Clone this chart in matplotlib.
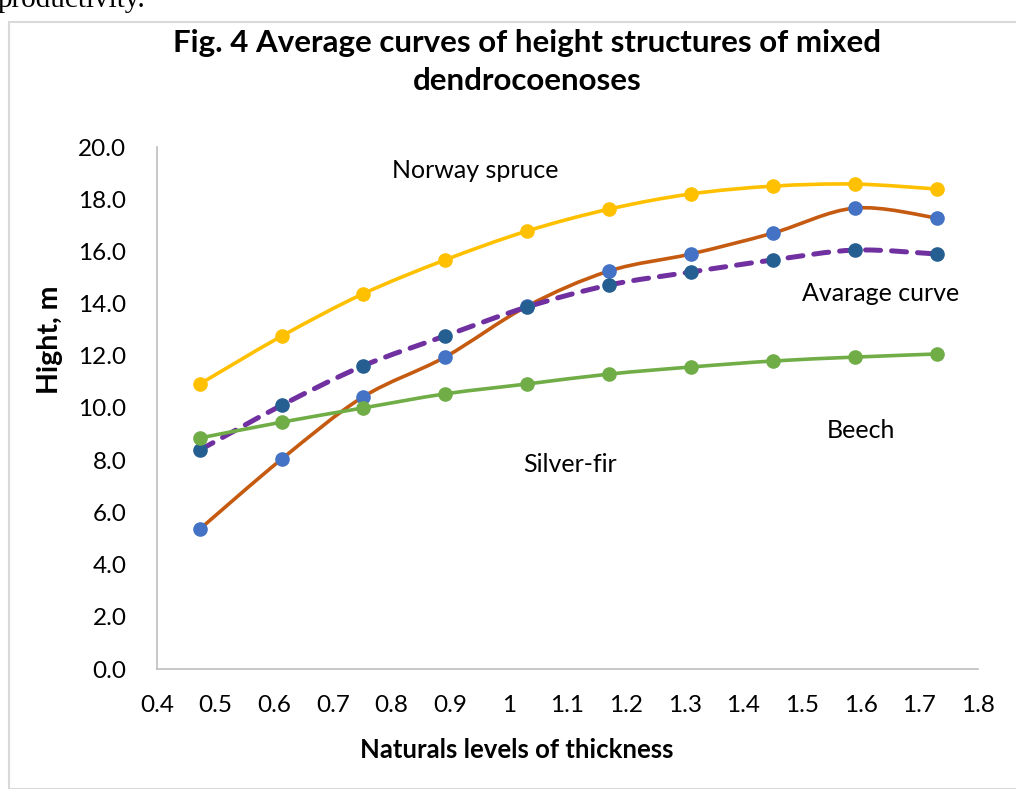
import matplotlib.pyplot as plt
from matplotlib.path import Path
from matplotlib.patches import PathPatch, Rectangle

plt.rcParams['font.family'] = ['Lato', 'DejaVu Sans']

# data
thickness = [0.473, 0.613, 0.751, 0.891, 1.031, 1.171, 1.31, 1.45, 1.59, 1.73]
spruce = [10.92, 12.76, 14.37, 15.67, 16.78, 17.62, 18.2, 18.5, 18.58, 18.39]
fir = [5.36, 8.05, 10.42, 11.95, 13.9, 15.25, 15.9, 16.7, 17.66, 17.28]
average = [8.39, 10.11, 11.61, 12.76, 13.87, 14.71, 15.21, 15.67, 16.05, 15.9]
beech = [8.85, 9.46, 10.0, 10.54, 10.92, 11.3, 11.57, 11.8, 11.95, 12.07]

xticks = [0.4, 0.5, 0.6, 0.7, 0.8, 0.9, 1, 1.1, 1.2, 1.3, 1.4, 1.5, 1.6, 1.7, 1.8]
xtick_labels = ['0.4', '0.5', '0.6', '0.7', '0.8', '0.9', '1', '1.1', '1.2',
                '1.3', '1.4', '1.5', '1.6', '1.7', '1.8']
yticks = [0, 2, 4, 6, 8, 10, 12, 14, 16, 18, 20]


def smooth_path(x, y, k=1/6):
    # bezier path through the points, like excel's smoothed line
    verts = [(x[0], y[0])]
    codes = [Path.MOVETO]
    n = len(x)
    for i in range(n - 1):
        x0, y0 = x[max(i - 1, 0)], y[max(i - 1, 0)]
        x1, y1 = x[i], y[i]
        x2, y2 = x[i + 1], y[i + 1]
        x3, y3 = x[min(i + 2, n - 1)], y[min(i + 2, n - 1)]
        c1 = (x1 + (x2 - x0) * k, y1 + (y2 - y0) * k)
        c2 = (x2 - (x3 - x1) * k, y2 - (y3 - y1) * k)
        verts += [c1, c2, (x2, y2)]
        codes += [Path.CURVE4] * 3
    return Path(verts, codes)


def draw_series(ax, x, y, line_color, marker_color, dashed=False):
    patch = PathPatch(smooth_path(x, y), fill=False, edgecolor=line_color,
                      linewidth=2.6 if not dashed else 3.6,
                      linestyle=(0, (3, 2.2)) if dashed else '-',
                      capstyle='round', zorder=2)
    ax.add_patch(patch)
    ax.plot(x, y, linestyle='none', marker='o', markersize=9.5,
            color=marker_color, zorder=3)


fig = plt.figure(figsize=(10.16, 7.89), dpi=100)
fig.patches.append(Rectangle((9 / 1016, 0), 1.0, 1 - 22 / 789, transform=fig.transFigure,
                             fill=False, edgecolor='#d9d9d9', linewidth=1.5))
fig.text(-0.002, 1.0, 'productivity.', family='Liberation Serif', fontsize=21,
         va='center', ha='left')

ax = fig.add_axes([157 / 1016, 1 - 669 / 789, (978 - 157) / 1016, (669 - 147) / 789])

draw_series(ax, thickness, spruce, '#FFC000', '#FFC000')
draw_series(ax, thickness, fir, '#C55A11', '#4472C4')
draw_series(ax, thickness, average, '#7030A0', '#255E91', dashed=True)
draw_series(ax, thickness, beech, '#70AD47', '#70AD47')

ax.set_xlim(0.4, 1.8)
ax.set_ylim(0, 20)
ax.set_xticks(xticks)
ax.set_xticklabels(xtick_labels)
ax.set_yticks(yticks)
ax.set_yticklabels(['%.1f' % v for v in yticks])
ax.tick_params(axis='x', length=0, labelsize=17.5, pad=19)
ax.tick_params(axis='y', length=0, labelsize=17.5, pad=22)

for s in ['top', 'right']:
    ax.spines[s].set_visible(False)
ax.spines['left'].set_color('#bfbfbf')
ax.spines['bottom'].set_color('#bfbfbf')
ax.spines['left'].set_linewidth(1.2)
ax.spines['bottom'].set_linewidth(1.2)

ax.text(0.943, 19.1, 'Norway spruce', fontsize=18, ha='center', va='center')
ax.text(1.634, 14.37, 'Avarage curve', fontsize=18, ha='center', va='center')
ax.text(1.601, 9.12, 'Beech', fontsize=18, ha='center', va='center')
ax.text(1.105, 7.82, 'Silver-fir', fontsize=18, ha='center', va='center')

# axis titles sit off-centre in the original
fig.text(517 / 1016, 1 - 750 / 789, 'Naturals levels of thickness', fontsize=18.5,
         fontweight='bold', ha='center', va='center')
fig.text(50 / 1016, 1 - 340 / 789, 'Hight, m', fontsize=20.5, fontweight='bold',
         ha='center', va='center', rotation=90)

fig.text(527 / 1016, 1 - 62 / 789, 'Fig. 4 Average curves of height structures of mixed\ndendrocoenoses',
         ha='center', va='center', fontsize=22.5, fontweight='bold', linespacing=1.45)

fig.savefig('out.png', dpi=100)
